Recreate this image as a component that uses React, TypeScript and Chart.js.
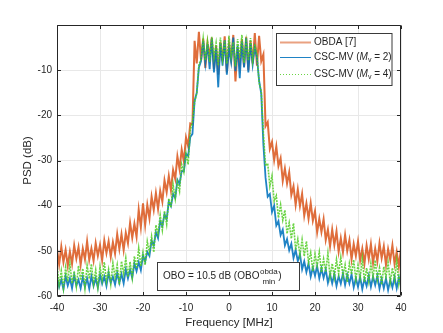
import React, { useEffect, useRef } from 'react';
import { Chart, registerables } from 'chart.js';

Chart.register(...registerables);

const FREQ = [
  -40, -39.5, -39, -38.5, -38, -37.5, -37, -36.5, -36, -35.5,
  -35, -34.5, -34, -33.5, -33, -32.5, -32, -31.5, -31, -30.5,
  -30, -29.5, -29, -28.5, -28, -27.5, -27, -26.5, -26, -25.5,
  -25, -24.5, -24, -23.5, -23, -22.5, -22, -21.5, -21, -20.5,
  -20, -19.5, -19, -18.5, -18, -17.5, -17, -16.5, -16, -15.5,
  -15, -14.5, -14, -13.5, -13, -12.5, -12, -11.5, -11, -10.5,
  -10, -9.5, -9, -8.5, -8, -7.5, -7, -6.5, -6, -5.5,
  -5, -4.5, -4, -3.5, -3, -2.5, -2, -1.5, -1, -0.5,
  0, 0.5, 1, 1.5, 2, 2.5, 3, 3.5, 4, 4.5,
  5, 5.5, 6, 6.5, 7, 7.5, 8, 8.5, 9, 9.5,
  10, 10.5, 11, 11.5, 12, 12.5, 13, 13.5, 14, 14.5,
  15, 15.5, 16, 16.5, 17, 17.5, 18, 18.5, 19, 19.5,
  20, 20.5, 21, 21.5, 22, 22.5, 23, 23.5, 24, 24.5,
  25, 25.5, 26, 26.5, 27, 27.5, 28, 28.5, 29, 29.5,
  30, 30.5, 31, 31.5, 32, 32.5, 33, 33.5, 34, 34.5,
  35, 35.5, 36, 36.5, 37, 37.5, 38, 38.5, 39, 39.5,
  40,
];

const OBDA = [
  -49.6, -53.0, -49.1, -52.5, -49.8, -53.3, -50.2, -52.9, -48.8, -51.7,
  -49.2, -53.1, -49.5, -51.9, -47.9, -52.0, -49.5, -52.2, -48.3, -51.1,
  -48.7, -52.1, -47.7, -50.5, -47.9, -51.3, -48.1, -50.6, -46.3, -49.6,
  -46.3, -49.8, -46.0, -48.3, -43.8, -47.1, -44.0, -46.9, -40.9, -44.8,
  -39.5, -44.3, -39.8, -42.8, -38.0, -40.9, -37.2, -40.7, -36.7, -39.1,
  -34.4, -37.0, -33.4, -36.6, -32.1, -34.1, -29.1, -31.9, -27.6, -30.2,
  -24.9, -26.8, -21.8, -22.0, -3.5, -8.5, -1.5, -7.8, -3.0, -9.5,
  -4.0, -7.0, -2.8, -9.8, -4.5, -11.0, -3.8, -8.0, -2.5, -10.5,
  -4.2, -7.5, -2.2, -12.5, -5.0, -8.8, -3.2, -9.2, -2.6, -10.0,
  -3.5, -8.5, -1.8, -9.0, -2.4, -8.0, -6.5, -22.4, -21.5, -27.4,
  -25.9, -29.9, -26.9, -31.2, -29.5, -34.5, -31.8, -35.1, -32.6, -37.6,
  -35.7, -39.8, -36.4, -40.1, -37.4, -42.2, -39.5, -42.9, -39.4, -43.3,
  -41.2, -45.9, -42.9, -45.8, -43.0, -47.6, -45.3, -49.0, -45.3, -48.7,
  -45.7, -50.2, -47.2, -50.3, -46.5, -50.0, -47.6, -51.9, -48.5, -51.1,
  -47.9, -52.1, -49.5, -52.8, -48.8, -51.8, -48.5, -52.7, -49.5, -52.3,
  -48.3, -51.6, -49.0, -53.1, -49.6, -52.0, -48.8, -52.9, -50.2, -53.5,
  -49.4,
];

const CSC_MV2 = [
  -55.8, -58.0, -56.4, -58.5, -55.6, -57.7, -56.1, -58.3, -55.4, -57.7,
  -56.4, -58.3, -55.8, -58.0, -56.1, -58.4, -55.6, -57.8, -56.1, -58.2,
  -55.3, -57.3, -55.7, -57.8, -54.9, -57.1, -55.7, -57.5, -54.9, -57.1,
  -55.1, -57.2, -54.1, -56.1, -54.2, -56.0, -52.8, -54.5, -52.5, -54.3,
  -51.0, -52.4, -50.2, -51.1, -47.7, -48.8, -45.9, -47.2, -43.4, -44.5,
  -41.9, -43.0, -39.1, -40.1, -37.4, -38.3, -34.3, -35.2, -32.3, -32.4,
  -28.5, -29.0, -24.8, -24.1, -16.8, -15.0, -9.4, -8.0, -3.5, -8.5,
  -4.2, -9.8, -3.0, -10.5, -5.0, -13.8, -4.0, -9.0, -3.4, -11.0,
  -5.2, -8.2, -2.8, -10.2, -4.6, -11.8, -3.6, -9.4, -2.9, -10.5,
  -4.0, -8.8, -5.0, -7.2, -12.3, -15.2, -26.5, -33.8, -38.0, -37.4,
  -41.4, -40.0, -44.4, -43.4, -46.5, -45.3, -48.8, -47.4, -49.9, -48.4,
  -51.6, -49.8, -52.3, -50.7, -54.1, -52.3, -54.7, -52.8, -55.7, -53.7,
  -55.5, -53.4, -56.1, -53.9, -56.0, -54.1, -57.1, -55.1, -57.2, -55.1,
  -57.8, -55.6, -57.3, -55.0, -57.6, -55.3, -57.2, -55.2, -58.1, -56.0,
  -58.0, -55.8, -58.5, -56.2, -57.8, -55.5, -58.0, -55.7, -57.6, -55.5,
  -58.4, -56.2, -58.3, -56.1, -58.7, -56.4, -58.1, -55.8, -58.3, -55.9,
  -57.8,
];

const CSC_MV4 = [
  -53.1, -57.5, -54.4, -58.3, -53.7, -56.8, -52.8, -57.2, -54.5, -57.9,
  -53.3, -56.5, -53.9, -58.3, -53.2, -56.2, -52.9, -57.3, -54.2, -58.1,
  -53.5, -56.5, -52.5, -56.8, -54.1, -57.4, -52.7, -55.8, -53.1, -57.5,
  -52.3, -55.1, -51.6, -55.8, -52.4, -56.0, -51.2, -53.9, -49.4, -53.4,
  -50.3, -53.1, -47.9, -50.3, -46.8, -50.3, -44.3, -46.3, -42.1, -45.4,
  -41.2, -44.1, -38.4, -40.4, -35.3, -38.5, -34.7, -36.8, -30.9, -32.6,
  -28.5, -30.9, -23.3, -21.5, -17.0, -15.2, -8.8, -7.6, -3.0, -7.8,
  -3.6, -8.2, -2.6, -7.2, -4.0, -9.0, -2.8, -7.6, -3.4, -8.6,
  -2.4, -7.0, -3.8, -9.2, -3.1, -7.4, -2.2, -8.4, -3.6, -7.9,
  -2.9, -8.0, -4.2, -6.6, -12.8, -14.6, -24.0, -31.2, -30.6, -35.7,
  -33.4, -39.0, -37.8, -42.7, -39.8, -43.2, -41.0, -46.2, -43.8, -47.3,
  -43.9, -49.8, -47.4, -51.0, -47.5, -51.2, -47.9, -52.6, -50.4, -54.5,
  -50.7, -53.3, -50.3, -54.8, -51.8, -54.7, -50.5, -55.8, -52.8, -55.9,
  -51.9, -55.1, -51.4, -55.6, -53.1, -56.9, -52.8, -55.2, -52.0, -56.4,
  -53.2, -56.0, -51.7, -56.9, -53.8, -56.8, -52.8, -55.9, -52.1, -56.4,
  -53.8, -57.5, -53.5, -55.8, -52.6, -57.0, -53.8, -56.5, -52.2, -57.3,
  -54.2,
];

const X_TICKS = [-40, -30, -20, -10, 0, 10, 20, 30, 40];
const Y_TICKS = [-60, -50, -40, -30, -20, -10, 0];
const X_TITLE = 'Frequency [MHz]';
const Y_TITLE = 'PSD (dB)';
const ANNOT_MAIN = 'OBO = 10.5 dB (OBO';
const ANNOT_SUP = 'obda';
const ANNOT_SUB = 'min';

const FONT = '"Liberation Sans", Arial, Helvetica, sans-serif';
const TEXT = '#262626';
const C_OBDA = 'rgba(217,83,25,0.85)';
const C_MV2 = 'rgba(0,114,189,0.88)';
const C_MV4 = 'rgba(80,205,35,0.85)';

type Part = { t: string; size: number; dy: number; italic?: boolean };

function drawParts(ctx: CanvasRenderingContext2D, parts: Part[], x: number, y: number) {
  let cx = x;
  for (const p of parts) {
    ctx.font = `${p.italic ? 'italic ' : ''}${p.size}px ${FONT}`;
    ctx.fillText(p.t, cx, y + p.dy);
    cx += ctx.measureText(p.t).width;
  }
  return cx;
}

export default function App() {
  const ref = useRef<HTMLCanvasElement>(null);

  useEffect(() => {
    if (!ref.current) return;
    const toPts = (ys: number[]) => FREQ.map((x, i) => ({ x, y: ys[i] }));

    const overlay = {
      id: 'overlay',
      afterDraw(chart: any) {
        const { ctx, chartArea: a, scales } = chart;
        const xs = scales.x;
        const ys = scales.y;
        ctx.save();
        const L = Math.round(a.left) + 0.5;
        const R = Math.round(a.right) - 0.5;
        const T = Math.round(a.top) + 0.5;
        const B = Math.round(a.bottom) - 0.5;
        ctx.strokeStyle = TEXT;
        ctx.lineWidth = 1;
        ctx.beginPath();
        ctx.rect(L, T, R - L, B - T);
        for (const v of X_TICKS) {
          const px = Math.round(xs.getPixelForValue(v)) + 0.5;
          ctx.moveTo(px, B);
          ctx.lineTo(px, B - 3.5);
          ctx.moveTo(px, T);
          ctx.lineTo(px, T + 3.5);
        }
        for (const v of Y_TICKS) {
          const py = Math.round(ys.getPixelForValue(v)) + 0.5;
          ctx.moveTo(L, py);
          ctx.lineTo(L + 3.5, py);
          ctx.moveTo(R, py);
          ctx.lineTo(R - 3.5, py);
        }
        ctx.stroke();

        ctx.fillStyle = TEXT;
        ctx.font = `11.5px ${FONT}`;
        ctx.textAlign = 'center';
        ctx.textBaseline = 'middle';
        ctx.fillText(X_TITLE, (a.left + a.right) / 2, 323);
        ctx.save();
        ctx.translate(28, (a.top + a.bottom) / 2);
        ctx.rotate(-Math.PI / 2);
        ctx.fillText(Y_TITLE, 0, 0);
        ctx.restore();

        const lx0 = 276.5, ly0 = 33.5, lw = 115.5, lh = 52;
        ctx.fillStyle = '#ffffff';
        ctx.fillRect(lx0, ly0, lw, lh);
        ctx.strokeStyle = '#3a3a3a';
        ctx.strokeRect(lx0, ly0, lw, lh);
        const rows = [
          { y: 42.5, color: 'rgba(217,83,25,0.55)', w: 2, dash: [] as number[], parts: [{ t: 'OBDA [7]', size: 10, dy: 0 }] as Part[] },
          { y: 57.5, color: C_MV2, w: 1, dash: [] as number[], parts: [
            { t: 'CSC-MV (', size: 10, dy: 0 },
            { t: 'M', size: 10, dy: 0, italic: true },
            { t: 'v', size: 7, dy: 3 },
            { t: ' = 2)', size: 10, dy: 0 },
          ] as Part[] },
          { y: 74.5, color: C_MV4, w: 1, dash: [1, 2], parts: [
            { t: 'CSC-MV (', size: 10, dy: 0 },
            { t: 'M', size: 10, dy: 0, italic: true },
            { t: 'v', size: 7, dy: 3 },
            { t: ' = 4)', size: 10, dy: 0 },
          ] as Part[] },
        ];
        for (const r of rows) {
          ctx.strokeStyle = r.color;
          ctx.lineWidth = r.w;
          ctx.setLineDash(r.dash);
          ctx.beginPath();
          ctx.moveTo(280, r.y);
          ctx.lineTo(311, r.y);
          ctx.stroke();
          ctx.setLineDash([]);
          ctx.fillStyle = TEXT;
          ctx.textAlign = 'left';
          ctx.textBaseline = 'middle';
          drawParts(ctx, r.parts, 314, r.y);
        }

        const ax0 = 157.5, ay0 = 262.5, aw = 142, ah = 28;
        ctx.fillStyle = '#ffffff';
        ctx.fillRect(ax0, ay0, aw, ah);
        ctx.strokeStyle = '#3a3a3a';
        ctx.lineWidth = 1;
        ctx.strokeRect(ax0, ay0, aw, ah);
        ctx.fillStyle = TEXT;
        ctx.textAlign = 'left';
        ctx.textBaseline = 'middle';
        let cx = drawParts(ctx, [{ t: ANNOT_MAIN, size: 10, dy: 0 }], 163, 276);
        ctx.font = `8px ${FONT}`;
        const wSup = ctx.measureText(ANNOT_SUP).width;
        const wSub = ctx.measureText(ANNOT_SUB).width;
        ctx.fillText(ANNOT_SUP, cx + 0.5, 271.5);
        ctx.fillText(ANNOT_SUB, cx + 0.5 + (wSup - wSub) / 2, 281.5);
        cx += Math.max(wSup, wSub) + 1;
        drawParts(ctx, [{ t: ')', size: 10, dy: 0 }], cx, 276.5);
        ctx.restore();
      },
    };

    const chart = new Chart(ref.current, {
      type: 'line',
      data: {
        datasets: [
          { label: 'OBDA [7]', data: toPts(OBDA), borderColor: C_OBDA, borderWidth: 2, pointRadius: 0, order: 3, fill: false },
          { label: 'CSC-MV (Mv = 2)', data: toPts(CSC_MV2), borderColor: C_MV2, borderWidth: 1.8, pointRadius: 0, order: 2, fill: false },
          { label: 'CSC-MV (Mv = 4)', data: toPts(CSC_MV4), borderColor: C_MV4, borderWidth: 1.6, borderDash: [2, 1], pointRadius: 0, order: 1, fill: false },
        ],
      },
      options: {
        responsive: false,
        animation: false,
        events: [],
        layout: { padding: { left: 0, right: 42, top: 25, bottom: 0 } },
        plugins: { legend: { display: false }, tooltip: { enabled: false } },
        scales: {
          x: {
            type: 'linear',
            min: -40,
            max: 40,
            afterFit: (s: any) => { s.height = 37; },
            afterBuildTicks: (s: any) => { s.ticks = X_TICKS.map((v) => ({ value: v })); },
            ticks: { font: { family: FONT, size: 10 }, color: TEXT, padding: 6, maxRotation: 0, autoSkip: false },
            grid: { color: '#e8e8e8', drawTicks: false, lineWidth: 1 },
            border: { display: false },
          },
          y: {
            type: 'linear',
            min: -60,
            max: 0,
            afterFit: (s: any) => { s.width = 57; },
            afterBuildTicks: (s: any) => { s.ticks = Y_TICKS.map((v) => ({ value: v })); },
            ticks: {
              font: { family: FONT, size: 10 },
              color: TEXT,
              padding: 5,
              callback: (v: any) => (v === 0 ? '' : String(v)),
            },
            grid: { color: '#e8e8e8', drawTicks: false, lineWidth: 1 },
            border: { display: false },
          },
        },
      },
      plugins: [overlay],
    } as any);

    return () => chart.destroy();
  }, []);

  return (
    <div style={{ position: 'absolute', left: 0, top: 0, width: 443, height: 333, background: '#fff' }}>
      <canvas ref={ref} width={443} height={333} style={{ display: 'block' }} />
    </div>
  );
}
